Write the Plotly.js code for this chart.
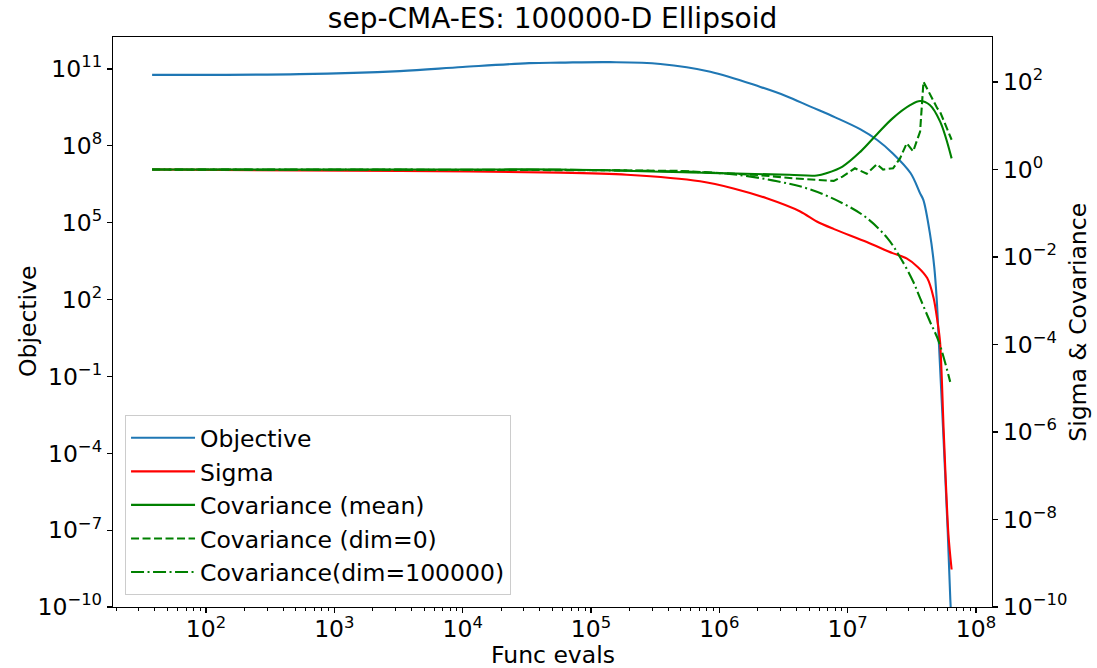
<!DOCTYPE html>
<html>
<head>
<meta charset="utf-8">
<script src="https://cdn.plot.ly/plotly-3.0.1.min.js"></script>
<style>
  html, body { margin: 0; padding: 0; background: #fff; }
  #chart { width: 1097px; height: 668px; }
</style>
</head>
<body>
<div id="chart"></div>
<script>
// ---- Data ----
const evalsObjective = [38, 537, 3236, 1e4, 3.3e4, 5.75e4, 1.41e5, 3.47e5, 8.51e5, 2.09e6, 3.3e6, 5.13e6, 8e6, 1.26e7, 1.7e7, 2.24e7, 3.09e7, 3.67e7, 3.89e7, 4.37e7, 4.73e7, 4.95e7, 5.13e7, 5.56e7, 6.03e7, 6.31e7, 6.53e7];
const objective = [5.9e10, 6.3e10, 8.3e10, 1.2e11, 1.7e11, 1.78e11, 1.86e11, 1.58e11, 7.9e10, 2.0e10, 8.9e9, 3.4e9, 1.3e9, 4.4e8, 1.7e8, 5.2e7, 8.7e6, 1.4e6, 7.8e5, 4e4, 1.9e3, 95, 2.6, 6.3e-4, 7.9e-8, 2e-10, 6e-12];

const evalsSigma = [38, 3236, 5.75e4, 1.9e5, 7.08e5, 1.29e6, 2.34e6, 4.27e6, 5.75e6, 7.76e6, 1.41e7, 2.24e7, 2.88e7, 3.55e7, 4.17e7, 4.68e7, 5.01e7, 5.25e7, 5.62e7, 6.1e7, 6.46e7];
const sigma = [1.0, 0.93, 0.85, 0.76, 0.54, 0.37, 0.22, 0.11, 0.065, 0.044, 0.022, 0.0123, 0.0093, 0.0058, 0.0033, 0.00115, 3.4e-4, 1.17e-4, 8.7e-7, 4.6e-9, 7.2e-10];

const evalsCovMean = [38, 1e4, 5.75e4, 1.15e6, 3.5e6, 5.75e6, 6.9e6, 9.12e6, 1.26e7, 1.7e7, 2.24e7, 3.09e7, 3.67e7, 4.37e7, 5.25e7, 6.46e7];
const covMean = [1.0, 1.0, 1.0, 0.82, 0.76, 0.73, 0.83, 1.17, 2.57, 6.5, 14.8, 30, 37, 30, 12.6, 1.8];

const evalsCovDim0 = [38, 1e4, 1e5, 5e5, 1e6, 2e6, 3.8e6, 7.8e6, 9.12e6, 1.14e7, 1.41e7, 1.69e7, 1.89e7, 2.26e7, 2.56e7, 2.89e7, 3.24e7, 3.67e7, 3.9e7, 4.37e7, 5.0e7, 5.25e7, 6.46e7];
const covDim0 = [1.0, 0.99, 0.97, 0.93, 0.85, 0.75, 0.63, 0.55, 0.69, 1.07, 0.8, 1.32, 1.0, 1.07, 1.8, 4.0, 2.6, 7.4, 102, 55, 25, 21, 4.8];

const evalsCovDimN = [38, 1e4, 1e5, 1.15e6, 2.82e6, 5.13e6, 9.12e6, 1.41e7, 2.04e7, 2.57e7, 3.24e7, 3.67e7, 4.37e7, 5.13e7, 6.3e7];
const covDimN = [1.0, 0.99, 0.97, 0.8, 0.54, 0.35, 0.17, 0.078, 0.027, 0.0098, 0.00275, 0.00115, 3.4e-4, 1.17e-4, 1.4e-5];

// tick labels
const xTickVals = [1e2, 1e3, 1e4, 1e5, 1e6, 1e7, 1e8];
const xTickText = ['10<sup>2</sup>', '10<sup>3</sup>', '10<sup>4</sup>', '10<sup>5</sup>', '10<sup>6</sup>', '10<sup>7</sup>', '10<sup>8</sup>'];
const yTickVals = [1e-10, 1e-7, 1e-4, 1e-1, 1e2, 1e5, 1e8, 1e11];
const yTickText = ['10<sup>\u221210</sup>', '10<sup>\u22127</sup>', '10<sup>\u22124</sup>', '10<sup>\u22121</sup>', '10<sup>2</sup>', '10<sup>5</sup>', '10<sup>8</sup>', '10<sup>11</sup>'];
const y2TickVals = [1e-10, 1e-8, 1e-6, 1e-4, 1e-2, 1e0, 1e2];
const y2TickText = ['10<sup>\u221210</sup>', '10<sup>\u22128</sup>', '10<sup>\u22126</sup>', '10<sup>\u22124</sup>', '10<sup>\u22122</sup>', '10<sup>0</sup>', '10<sup>2</sup>'];

// minor tick positions for the log x axis (2..9 x 10^d)
const xMinor = [];
for (let d = 1; d <= 8; d++) for (let k = 2; k <= 9; k++) xMinor.push(k * Math.pow(10, d));

const FONT = 'DejaVu Sans, Liberation Sans, sans-serif';
const LW = 2.1;

const traces = [
  {x: evalsObjective, y: objective, name: 'Objective', yaxis: 'y', mode: 'lines',
   line: {color: '#1f77b4', width: LW, shape: 'spline', smoothing: 1}, legendgroup: 'a'},
  {x: evalsSigma, y: sigma, name: 'Sigma', yaxis: 'y2', mode: 'lines',
   line: {color: '#ff0000', width: LW, shape: 'spline', smoothing: 0.8}, legendgroup: 'b'},
  {x: evalsCovMean, y: covMean, name: 'Covariance (mean)', yaxis: 'y2', mode: 'lines',
   line: {color: '#008000', width: LW, shape: 'spline', smoothing: 1}, legendgroup: 'c'},
  {x: evalsCovDim0, y: covDim0, name: 'Covariance (dim=0)', yaxis: 'y2', mode: 'lines',
   line: {color: '#008000', width: LW, dash: '8px,3.5px'}, legendgroup: 'd'},
  {x: evalsCovDimN, y: covDimN, name: 'Covariance(dim=100000)', yaxis: 'y2', mode: 'lines',
   line: {color: '#008000', width: LW, dash: '13px,3.5px,2px,3.5px', shape: 'spline', smoothing: 1}, legendgroup: 'e'}
];

const axisCommon = {
  type: 'log', showgrid: false, zeroline: false, showline: true, linecolor: '#000', linewidth: 1.2,
  ticks: 'outside', ticklen: 5, tickwidth: 1.2, tickcolor: '#000',
  tickfont: {family: FONT, size: 23.5, color: '#000'}, tickmode: 'array'
};

const titleFont = {family: FONT, size: 23.5, color: '#000'};

const layout = {
  width: 1097, height: 668,
  margin: {l: 113, r: 105, t: 37, b: 61},
  paper_bgcolor: '#fff', plot_bgcolor: '#fff',
  font: {family: FONT, color: '#000'},
  title: {text: 'sep-CMA-ES: 100000-D Ellipsoid', font: {family: FONT, size: 28, color: '#000'},
          x: 0.5, xref: 'paper', y: 0.973, yref: 'container', yanchor: 'middle'},
  showlegend: true,
  legend: {x: 0.0137, y: 0.021, xanchor: 'left', yanchor: 'bottom',
           bgcolor: 'rgba(255,255,255,0.85)', bordercolor: '#cccccc', borderwidth: 1,
           font: {family: FONT, size: 23.5, color: '#000'}, itemwidth: 64, tracegroupgap: 0},
  xaxis: Object.assign({}, axisCommon, {
    range: [1.275, 8.125], mirror: true, ticklabelstandoff: -4,
    tickvals: xTickVals, ticktext: xTickText,
    minor: {tickmode: 'array', tickvals: xMinor, ticks: 'outside', ticklen: 3, tickwidth: 1, tickcolor: '#000', showgrid: false}
  }),
  yaxis: Object.assign({}, axisCommon, {
    range: [-10, 12.25], mirror: false,
    tickvals: yTickVals, ticktext: yTickText
  }),
  yaxis2: Object.assign({}, axisCommon, {
    range: [-10, 3.03], overlaying: 'y', side: 'right',
    tickvals: y2TickVals, ticktext: y2TickText
  }),
  annotations: [
    {text: 'Func evals', xref: 'paper', yref: 'paper', x: 0.5, y: -0.0842, xanchor: 'center', yanchor: 'middle',
     showarrow: false, font: titleFont},
    {text: 'Objective', xref: 'paper', yref: 'paper', x: -0.0967, y: 0.5, xanchor: 'center', yanchor: 'middle',
     textangle: -90, showarrow: false, font: titleFont},
    {text: 'Sigma &amp; Covariance', xref: 'paper', yref: 'paper', x: 1.0976, y: 0.5, xanchor: 'center', yanchor: 'middle',
     textangle: -90, showarrow: false, font: titleFont}
  ]
};

Plotly.newPlot('chart', traces, layout, {displayModeBar: false, staticPlot: true});
</script>
</body>
</html>
